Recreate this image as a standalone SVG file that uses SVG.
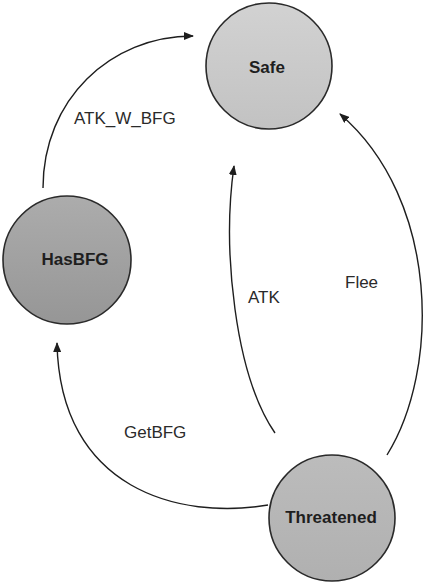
<svg xmlns="http://www.w3.org/2000/svg" width="426" height="582" viewBox="0 0 426 582">
  <style>
    .state { stroke: #2a2a2a; stroke-width: 1.6; }
    .state-label { font-family: "Liberation Sans", Arial, sans-serif; font-size: 17px; font-weight: bold; fill: #1e1e1e; text-anchor: middle; }
    .edge { fill: none; stroke: #1e1e1e; stroke-width: 1.4; marker-end: url(#arrow); }
    .edge-label { font-family: "Liberation Sans", Arial, sans-serif; font-size: 17px; fill: #2a2a2a; }
  </style>
  <defs>
    <marker id="arrow" viewBox="0 0 10 8" refX="9" refY="4" markerWidth="10" markerHeight="8" markerUnits="userSpaceOnUse" orient="auto">
      <path d="M0,0 L10,4 L0,8 Z" fill="#1e1e1e"/>
    </marker>
    <linearGradient id="fillSafe" x1="0" y1="0" x2="0" y2="1">
      <stop offset="0" stop-color="#d2d2d2"/>
      <stop offset="1" stop-color="#c2c2c2"/>
    </linearGradient>
    <linearGradient id="fillHas" x1="0" y1="0" x2="0" y2="1">
      <stop offset="0" stop-color="#acacac"/>
      <stop offset="1" stop-color="#969696"/>
    </linearGradient>
    <linearGradient id="fillThreat" x1="0" y1="0" x2="0" y2="1">
      <stop offset="0" stop-color="#bcbcbc"/>
      <stop offset="1" stop-color="#b0b0b0"/>
    </linearGradient>
  </defs>

  <!-- transitions -->
  <g id="connectors">
    <path id="edge-atk-w-bfg" class="edge" d="M43,188 C43,100 110,36 193,36"/>
    <path id="edge-atk" class="edge" d="M275,433 C235,375 222,250 234,166"/>
    <path id="edge-flee" class="edge" d="M387,455 C440,370 440,200 340,114"/>
    <path id="edge-getbfg" class="edge" d="M268,505 C180,520 60,490 57,343"/>
    <text class="edge-label" x="74" y="124">ATK_W_BFG</text>
    <text class="edge-label" x="248" y="303">ATK</text>
    <text class="edge-label" x="345" y="288">Flee</text>
    <text class="edge-label" x="124" y="438">GetBFG</text>
  </g>

  <!-- states -->
  <g id="safe">
    <circle class="state" cx="269" cy="66" r="63" fill="url(#fillSafe)"/>
    <text class="state-label" x="267" y="73">Safe</text>
  </g>
  <g id="hasbfg">
    <circle class="state" cx="67" cy="260" r="64" fill="url(#fillHas)"/>
    <text class="state-label" x="75" y="265">HasBFG</text>
  </g>
  <g id="threatened">
    <circle class="state" cx="332" cy="518" r="63" fill="url(#fillThreat)"/>
    <text class="state-label" x="331" y="523">Threatened</text>
  </g>
</svg>
